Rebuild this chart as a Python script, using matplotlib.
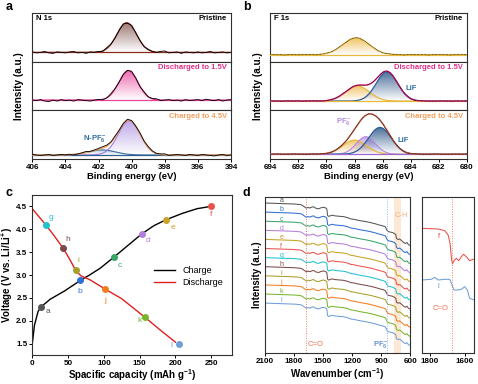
import numpy as np
import matplotlib
matplotlib.use('Agg')
import matplotlib.pyplot as plt
import matplotlib.colors as mcolors

##### Fonts
plt.rcParams['font.family'] = ['Liberation Sans', 'DejaVu Sans']
plt.rcParams['font.weight'] = 'bold'
plt.rcParams['axes.labelweight'] = 'bold'
plt.rcParams['mathtext.fontset'] = 'custom'
plt.rcParams['mathtext.rm'] = 'Liberation Sans:bold'
plt.rcParams['mathtext.it'] = 'Liberation Sans:bold'
plt.rcParams['mathtext.bf'] = 'Liberation Sans:bold'
plt.rcParams['mathtext.default'] = 'rm'

##### Data: XPS fits (center eV, FWHM eV, height as fraction of sub-panel), baselines
n1s_states = ['Pristine', 'Discharged to 1.5V', 'Charged to 4.5V']
n1s_base = [0.19, 0.21, 0.083]
n1s_main = [(400.3, 1.4, 0.61), (400.2, 1.35, 0.606), (400.15, 1.55, 0.705)]
n1s_npf6 = (401.8, 1.9, 0.104)
# residual wiggle of measured N 1s data (x0.01), 406 -> 394 eV
n1s_res = [
    [1, -1, 0, 2, -1, -2, 1, 0, -1, 1, 2, -1, 0, -2, 1, 0, 1, -1, 2, 0, -1, 0, 1, -1, 2, 1, 0, -1, 1, 0,
     -1, 2, 3, -1, 0, 1, -2, 1, 0, -1, 1, -1, 0, 2, -1, 0, 1, -1, 0],
    [0, -1, 1, -2, -3, 0, -2, 1, -1, 0, -2, 1, 0, -1, -2, 0, 1, -1, 0, 2, 1, -1, 0, 1, 2, 1, -1, 2, 0, 1,
     2, -1, 0, 1, -1, 0, -2, 1, -1, 0, 1, -1, 2, 0, -1, 1, -2, 0, 1],
    [1, 0, -1, 0, 1, -1, 0, 1, 0, 1, -1, 0, 1, 2, 0, 1, 2, 3, 2, 1, 2, 0, 1, 2, 1, 0, 2, 1, 2, 1,
     0, 1, 2, -1, 0, 1, 0, -1, 1, 0, -1, 1, 0, -1, -2, 0, 1, -1, 0],
]

f1s_base = [0.143, 0.19, 0.098]
f1s_org = [(687.9, 2.2, 0.347), (687.8, 2.0, 0.31), (688.0, 2.0, 0.29)]
f1s_lif = [None, (685.7, 1.8, 0.60), (686.2, 1.9, 0.55)]
f1s_pf6 = [None, None, (687.2, 1.6, 0.36)]
f1s_res = [
    [0, 1, 0, 0, -1, 0, 1, 0, 0, 0, 1, 0, 0, -1, 0, 0, 1, 0, 0, 1, 0, 0, -1, 0, 0, 1, 0, 0, 0, 1,
     0, 0, -1, 0, 1, 0, 0, 0, -1, 0, 1, 0, 0, 1, 0, -1, 0, 0, 1, 0, 0, -1, 0, 0, 1, 0, 0],
    [1, 0, 0, -1, 0, 1, 0, 0, 1, -1, 0, 0, 1, 0, 0, -1, 0, 1, 1, 0, 2, 1, 0, 1, 2, 1, 0, -1, 0, 1,
     0, 0, 1, 0, 0, 1, -1, 0, 0, 1, 0, -1, 0, 1, 0, 0, -1, 0, 0, 1, 0, 0, -1, 1, 0, 0, 1],
    [0, 0, 1, 0, -1, 0, 0, 1, 0, 0, -1, 0, 1, 0, 0, 1, 0, -1, 0, 0, 1, 1, 0, 1, 0, 1, 0, 0, 1, 0,
     0, 1, 0, -1, 0, 0, 1, 0, 0, -1, 0, 1, 0, 0, -1, 0, 0, 1, 0, 0, -1, 0, 0, 1, 0, 0, 1],
]

##### Data: charge / discharge curves
chg_cap = [0, 3, 8, 12, 25, 45, 67, 80, 95, 114, 130, 153, 170, 187, 210, 230, 249]
chg_v = [1.5, 1.9, 2.2, 2.3, 2.47, 2.65, 2.88, 3.0, 3.15, 3.39, 3.6, 3.9, 4.08, 4.21, 4.35, 4.45, 4.5]
dis_cap = [0, 8, 18.7, 30, 43.4, 52, 60.7, 68, 80, 102, 125, 157, 180, 200]
dis_v = [4.45, 4.3, 4.1, 3.87, 3.58, 3.35, 3.1, 2.98, 2.9, 2.69, 2.48, 2.08, 1.78, 1.53]
pt_names = ['a', 'b', 'c', 'd', 'e', 'f', 'g', 'h', 'i', 'j', 'k', 'l']
pt_cap = [12.2, 67, 114, 153, 187, 249, 18.7, 43.4, 60.7, 102, 157, 205]
pt_v = [2.3, 2.88, 3.39, 3.9, 4.21, 4.5, 4.1, 3.58, 3.1, 2.69, 2.08, 1.48]
pt_lab_cap = [22, 67, 122, 161, 197, 250, 26, 50, 64, 102, 150, 194]
pt_lab_v = [2.21, 2.64, 3.2, 3.75, 4.04, 4.33, 4.26, 3.77, 3.31, 2.44, 2.0, 1.46]
pt_colors = ['#555555', '#2f6fd6', '#3aa66a', '#b57edc', '#c9a227', '#e8524a',
             '#22c1cf', '#7b4a4a', '#a6a02c', '#f47c20', '#78b52f', '#6f9fd8']

##### Data: FTIR
ir_wn = [2100, 1950, 1800, 1730, 1715, 1700, 1685, 1670, 1655, 1635, 1610, 1595, 1575, 1545, 1520,
         1495, 1470, 1460, 1452, 1440, 1420, 1400, 1380, 1340, 1290, 1250, 1210, 1180, 1150, 1110,
         1060, 1010, 960, 920, 880, 855, 845, 830, 810, 785, 765, 750, 742, 725, 710, 690, 670,
         650, 635, 620, 600]
ir_shape = [0, -0.5, -1.0, -1.6, -2.2, -3.3, -4.2, -5.2, -4.4, -5.0, -4.0, -3.8, -5.2, -5.8, -4.8,
            -4.2, -5.0, -6.0, -12.5, -13.4, -12.6, -12.2, -12.8, -13.2, -13.6, -14.5, -16.0, -16.3,
            -17.0, -17.8, -18.6, -19.6, -20.8, -22.0, -23.0, -24.0, -26.5, -28.5, -29.0, -29.5,
            -30.5, -31.5, -35.5, -36.5, -36.0, -37.5, -39.5, -40.5, -39.5, -41.5, -42.5]
ir_offset = [181, 171.9, 162.8, 153.7, 144.6, 135.5, 126.4, 117.3, 108.2, 99.1, 90, 80.9]
ins_f_wn = [1846, 1752, 1714, 1695, 1684, 1676, 1670, 1661, 1648, 1634, 1619, 1606, 1591, 1572, 1547]
ins_f = [155.7, 155, 153.3, 149, 140.7, 125.7, 120, 123.3, 125.7, 123.3, 127.3, 129.7, 127.3, 123.3, 125]
ins_l_wn = [1846, 1790, 1771, 1752, 1714, 1686, 1676, 1661, 1638, 1619, 1600, 1585, 1572, 1547]
ins_l = [104, 104.7, 106.7, 104, 104.7, 104.7, 100.7, 94, 94, 94.7, 97.3, 94, 85.7, 84]


def gauss(x, p):
    c, w, h = p
    return h * np.exp(-4 * np.log(2) * (x - c) ** 2 / w ** 2)


def rect(l, t, r, b):
    return [l / 478, 1 - b / 384, (r - l) / 478, (b - t) / 384]


def grad_fill(ax, x, y, base, color, amax=0.7):
    poly = ax.fill_between(x, base, y, facecolor='none', edgecolor='none')
    path = poly.get_paths()[0]
    img = np.zeros((100, 1, 4))
    img[:, :, :3] = mcolors.to_rgb(color)
    img[:, 0, 3] = np.linspace(0, amax, 100)
    im = ax.imshow(img, aspect='auto', origin='lower', zorder=1,
                   extent=[x.min(), x.max(), base, y.max()])
    im.set_clip_path(path, ax.transData)


def style(ax):
    for s in ax.spines.values():
        s.set_linewidth(0.8)
        s.set_color('#303030')
    ax.tick_params(labelsize=5.8, width=0.7, length=2, pad=1.5)


fig = plt.figure(figsize=(4.78, 3.84), dpi=100)

##### Panel a: N 1s
xa = np.linspace(406, 394, 600)
state_cols = ['black', '#e0308a', '#f4a060']
sub_h = (159 - 13) / 3
axa = []
for k in range(3):
    ax = fig.add_axes(rect(32.3, 13 + k * sub_h, 231, 13 + (k + 1) * sub_h))
    style(ax)
    b = n1s_base[k]
    main = gauss(xa, n1s_main[k]) + b
    xr = np.linspace(406, 394, len(n1s_res[k]))
    env_r = gauss(xr, n1s_main[k]) + b
    if k == 0:
        grad_fill(ax, xa, main, b, '#7a4a44', 0.75)
        ax.plot(xa, main, color='#8c2a1e', lw=0.9, zorder=3)
        ax.axhline(b, color='#8c2a1e', lw=0.9, zorder=3)
    elif k == 1:
        grad_fill(ax, xa, main, b, '#e8449a', 0.8)
        ax.plot(xa, main, color='#e0388c', lw=0.9, zorder=3)
        ax.axhline(b, color='#e8449a', lw=0.9, zorder=3)
    else:
        npf = gauss(xa, n1s_npf6) + b
        grad_fill(ax, xa, npf, b, '#5a8ac0', 0.5)
        grad_fill(ax, xa, main, b, '#a78be0', 0.75)
        ax.plot(xa, npf, color='#3a6fa0', lw=0.8, zorder=3)
        ax.plot(xa, main, color='#a47bd8', lw=0.8, zorder=3)
        ax.axhline(b, color='#2e5f8f', lw=0.9, zorder=3)
        ax.plot(xa, main + npf - b, color='#f2a05a', lw=1.0, zorder=3)
        env_r = env_r + gauss(xr, n1s_npf6)
    ax.plot(xr, env_r + np.array(n1s_res[k]) * 0.01, color='black', lw=0.6, zorder=4)
    ax.set_xlim(406, 394)
    ax.set_ylim(0, 1)
    ax.set_yticks([])
    ax.text(0.98, 0.88, n1s_states[k], transform=ax.transAxes, ha='right', va='center',
            fontsize=5.5, color=state_cols[k])
    if k < 2:
        ax.set_xticks([])
    axa.append(ax)
axa[0].text(0.02, 0.88, 'N 1s', transform=axa[0].transAxes, ha='left', va='center', fontsize=5.5)
axa[2].text(402.2, 0.42, 'N-PF$_6^-$', ha='center', va='center', fontsize=5.5, color='#2e6ea6')
axa[2].set_xticks([406, 404, 402, 400, 398, 396, 394])
axa[2].set_xlabel('Binding energy (eV)', fontsize=6.8, labelpad=0.5)
fig.text(0.04, 1 - 86 / 384, 'Intensity (a.u.)', rotation=90, ha='center', va='center', fontsize=7.2)
fig.text(0.012, 1 - 7 / 384, 'a', fontsize=9, ha='left', va='center')

##### Panel b: F 1s
xb = np.linspace(694, 680, 700)
axb = []
for k in range(3):
    ax = fig.add_axes(rect(270.3, 13 + k * sub_h, 467, 13 + (k + 1) * sub_h))
    style(ax)
    b = f1s_base[k]
    xr = np.linspace(694, 680, len(f1s_res[k]))
    org = gauss(xb, f1s_org[k]) + b
    env = org.copy()
    env_r = gauss(xr, f1s_org[k]) + b
    grad_fill(ax, xb, org, b, '#edb640', 0.8)
    ax.plot(xb, org, color='#e8b93a', lw=0.9, zorder=3)
    if f1s_pf6[k] is not None:
        pf = gauss(xb, f1s_pf6[k]) + b
        grad_fill(ax, xb, pf, b, '#b48be8', 0.75)
        ax.plot(xb, pf, color='#b487e0', lw=0.8, zorder=3)
        env = env + pf - b
        env_r = env_r + gauss(xr, f1s_pf6[k])
    if f1s_lif[k] is not None:
        lif = gauss(xb, f1s_lif[k]) + b
        grad_fill(ax, xb, lif, b, '#1d4a80', 0.8)
        ax.plot(xb, lif, color='#2a5d9a', lw=0.9, zorder=3)
        env = env + lif - b
        env_r = env_r + gauss(xr, f1s_lif[k])
    if k == 0:
        ax.axhline(b, color='#e8b93a', lw=0.9, zorder=3)
    elif k == 1:
        ax.axhline(b, color='#e8b93a', lw=0.9, zorder=3)
        ax.plot(xb, env, color='#d81b7a', lw=1.0, zorder=3)
    else:
        ax.axhline(b, color='#9a6ad0', lw=0.9, zorder=3)
        ax.plot(xb, env, color='#c8553a', lw=1.0, zorder=3)
    ax.plot(xr, env_r + np.array(f1s_res[k]) * 0.006, color='black', lw=0.5, ls=(0, (1, 1)), zorder=4)
    ax.set_xlim(694, 680)
    ax.set_ylim(0, 1)
    ax.set_yticks([])
    ax.text(0.98, 0.88, n1s_states[k], transform=ax.transAxes, ha='right', va='center',
            fontsize=5.5, color=state_cols[k])
    if k < 2:
        ax.set_xticks([])
    axb.append(ax)
axb[0].text(0.02, 0.88, 'F 1s', transform=axb[0].transAxes, ha='left', va='center', fontsize=5.5)
axb[1].text(684.0, 0.45, 'LiF', ha='center', va='center', fontsize=5.5, color='#2e6ea6')
axb[2].text(684.55, 0.375, 'LiF', ha='center', va='center', fontsize=5.5, color='#2e6ea6')
axb[2].text(688.75, 0.77, 'PF$_6^-$', ha='center', va='center', fontsize=5.5, color='#b58be0')
axb[2].set_xticks([694, 692, 690, 688, 686, 684, 682, 680])
axb[2].set_xlabel('Binding energy (eV)', fontsize=6.8, labelpad=0.5)
fig.text(0.54, 1 - 86 / 384, 'Intensity (a.u.)', rotation=90, ha='center', va='center', fontsize=7.2)
fig.text(0.508, 1 - 7 / 384, 'b', fontsize=9, ha='left', va='center')

##### Panel c: charge/discharge
axc = fig.add_axes(rect(32.3, 195, 232, 355))
style(axc)
axc.plot(chg_cap, chg_v, color='black', lw=1.0, label='Charge', zorder=2)
axc.plot(dis_cap, dis_v, color='#e02020', lw=1.0, label='Discharge', zorder=2)
for n, x, y, lx, ly, c in zip(pt_names, pt_cap, pt_v, pt_lab_cap, pt_lab_v, pt_colors):
    axc.plot(x, y, 'o', ms=4, color=c, zorder=3)
    axc.text(lx, ly, n, color=c, fontsize=6, fontweight='normal', ha='center', va='center')
axc.set_xlim(0, 279)
axc.set_ylim(1.25, 4.75)
axc.set_xticks([0, 50, 100, 150, 200, 250])
axc.set_yticks([1.5, 2.0, 2.5, 3.0, 3.5, 4.0, 4.5])
axc.set_xlabel('Spacific capacity (mAh g$^{-1}$)', fontsize=7, labelpad=0.5)
axc.set_ylabel('Voltage (V vs. Li/Li$^{+}$)', fontsize=7, labelpad=1)
axc.legend(loc='center left', bbox_to_anchor=(0.57, 0.49), frameon=False,
           handlelength=2.3, labelspacing=0.4, prop={'weight': 'normal', 'size': 6.5})
fig.text(0.012, 1 - 193 / 384, 'c', fontsize=9, ha='left', va='center')

##### Panel d: FTIR
axd = fig.add_axes(rect(264.7, 196.7, 410.3, 353.3))
style(axd)
shape = np.array(ir_shape)
for n, off, c in zip(pt_names, ir_offset, pt_colors):
    axd.plot(ir_wn, off + shape, color=c, lw=0.75)
    axd.text(1930, off + 2.2, n, color=c, fontsize=5, fontweight='normal', ha='center', va='center')
axd.axvline(1678, color='#f08070', lw=0.7, ls=(0, (1, 1.5)))
axd.axvline(837, color='#9ab8e6', lw=0.7, ls=(0, (1, 1.5)))
axd.axvspan(765, 700, color='#fcd9b6', alpha=0.6, lw=0)
axd.text(1579, 40, 'C=O', color='#f07050', fontsize=5.5, fontweight='normal', ha='center', va='center')
axd.text(899, 40, 'PF$_6^-$', color='#6a90d0', fontsize=5.5, ha='center', va='center')
axd.text(693, 169, 'C-H', color='#f0b080', fontsize=5.5, fontweight='normal', ha='center', va='center')
axd.set_xlim(2100, 600)
axd.set_ylim(30.7, 187.3)
axd.set_yticks([])
axd.set_xticks([2100, 1800, 1500, 1200, 900, 600])
axd.set_xlabel('Wavenumber (cm$^{-1}$)', fontsize=7, labelpad=0.5)
axd.set_ylabel('Intensity (a.u.)', fontsize=7, labelpad=2)
fig.text(0.508, 1 - 193 / 384, 'd', fontsize=9, ha='left', va='center')

axi = fig.add_axes(rect(421.7, 196.7, 474, 353.3))
style(axi)
axi.plot(ins_f_wn, ins_f, color='#e8524a', lw=0.75)
axi.plot(ins_l_wn, ins_l, color='#6f9fd8', lw=0.75)
axi.axvline(1674, color='#f08070', lw=0.7, ls=(0, (1, 1.5)))
axi.text(1749, 147.3, 'f', color='#e8524a', fontsize=5.5, fontweight='normal', ha='center', va='center')
axi.text(1749, 97.3, 'l', color='#6f9fd8', fontsize=5.5, fontweight='normal', ha='center', va='center')
axi.text(1737, 75.7, 'C=O', color='#f07050', fontsize=5.5, fontweight='normal', ha='center', va='center')
axi.set_xlim(1846, 1547)
axi.set_ylim(30.7, 187.3)
axi.set_yticks([])
axi.set_xticks([1800, 1600])

fig.savefig('out.png', dpi=100)
